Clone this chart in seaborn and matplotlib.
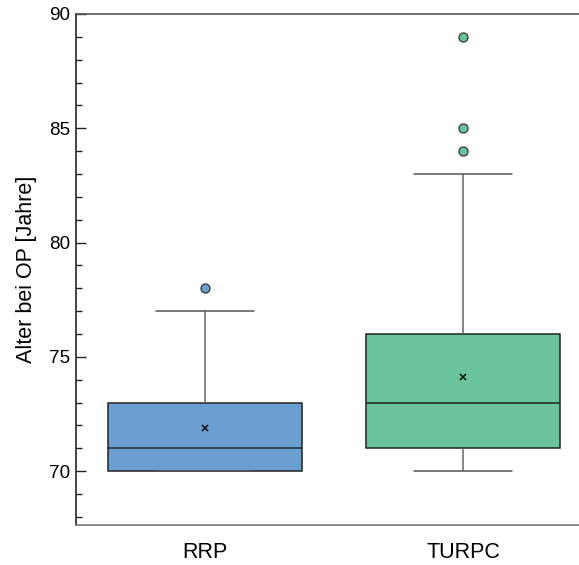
import numpy as np
import pandas as pd
import matplotlib
matplotlib.use("Agg")
import matplotlib.pyplot as plt
import seaborn as sns
from matplotlib.ticker import MultipleLocator

# Data (ages at surgery), constructed to match the box statistics
groups = ["RRP", "TURPC"]
rrp_ages = [70, 70, 70, 70, 70, 70, 70, 71, 71, 71, 71, 72, 72, 73, 73, 73, 74, 77, 78]
turpc_ages = [70, 70, 70, 70, 70, 70, 70, 70, 70, 71, 71,
              71, 71, 71, 71, 72, 72, 73, 73, 73,
              73, 73, 73, 74, 74, 75, 75, 75, 76, 76,
              76, 76, 77, 78, 79, 83, 84, 85, 89]
colors = ["#6b9fd1", "#6cc49a"]
y_label = "Alter bei OP [Jahre]"

df = pd.DataFrame({
    "Gruppe": ["RRP"] * len(rrp_ages) + ["TURPC"] * len(turpc_ages),
    "Alter": rrp_ages + turpc_ages,
})

sns.set_style("white")
plt.rcParams["font.family"] = ["Liberation Sans", "DejaVu Sans"]
plt.rcParams["text.color"] = "black"
plt.rcParams["axes.labelcolor"] = "black"
plt.rcParams["xtick.color"] = "black"
plt.rcParams["ytick.color"] = "black"

fig = plt.figure(figsize=(5.79, 5.65), dpi=100)
ax = fig.add_axes([76 / 579, 40 / 565, 516 / 579, 511 / 565])

sns.boxplot(
    data=df, x="Gruppe", y="Alter", hue="Gruppe", order=groups, hue_order=groups,
    palette=colors, saturation=1, width=0.755, whis=1.5, dodge=False, legend=False,
    linewidth=1.1, linecolor="#222222", showmeans=True,
    meanprops=dict(marker="x", markeredgecolor="#111111", markerfacecolor="#111111",
                   markersize=5, markeredgewidth=1.1),
    whiskerprops=dict(color="#666666", linewidth=1.1),
    capprops=dict(color="#555555", linewidth=1.1),
    medianprops=dict(color="#222222", linewidth=1.1),
    flierprops=dict(marker="o", markersize=6.5, markeredgecolor="#333333",
                    markeredgewidth=0.9),
    ax=ax,
)

# color fliers by group
for ln in ax.lines:
    if ln.get_marker() == "o":
        xs = ln.get_xdata()
        if len(xs):
            idx = int(round(float(np.mean(xs))))
            ln.set_markerfacecolor(colors[idx])
            ln.set_markeredgecolor("#333333")

ax.set_xlim(-0.5, 1.5)
ax.set_ylim(67.64, 90)
ax.yaxis.set_major_locator(MultipleLocator(5))
ax.yaxis.set_minor_locator(MultipleLocator(1))
ax.tick_params(axis="y", which="major", direction="in", length=7, width=1,
               color="#222222", labelcolor="black", labelsize=13.6, pad=4, left=True)
ax.tick_params(axis="y", which="minor", direction="in", length=4, width=1,
               color="#222222", left=True)
ax.tick_params(axis="x", which="both", length=0, labelsize=15.5, pad=12,
               labelcolor="black")

ax.set_xlabel("")
ax.set_ylabel(y_label, fontsize=15.5, labelpad=9, color="black")

for side in ["left", "top", "bottom"]:
    ax.spines[side].set_visible(True)
ax.spines["right"].set_visible(False)
ax.spines["left"].set_color("#222222")
ax.spines["left"].set_linewidth(1.2)
ax.spines["top"].set_color("#555555")
ax.spines["top"].set_linewidth(1.2)
ax.spines["bottom"].set_color("#777777")
ax.spines["bottom"].set_linewidth(1.2)

fig.savefig("out.png", dpi=100)
